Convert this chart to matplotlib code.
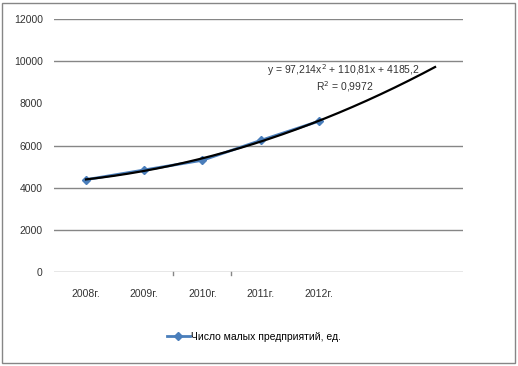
import numpy as np
import matplotlib.pyplot as plt
from matplotlib.patches import Rectangle

plt.rcParams['font.family'] = ['Liberation Sans Narrow', 'Liberation Sans', 'DejaVu Sans']

# data
years = ['2008г.', '2009г.', '2010г.', '2011г.', '2012г.']
firms = [4380, 4840, 5300, 6240, 7150]
# polynomial trend shown on chart (x = 1..7, forecast 2 periods forward)
coef = [97.214, 110.81, 4185.2]
eq_text = 'y = 97,214x$^2$ + 110,81x + 4185,2'
r2_text = 'R$^2$ = 0,9972'
legend_label = 'Число малых предприятий, ед.'

fig = plt.figure(figsize=(5.18, 3.66), dpi=100)
ax = fig.add_axes([0.1042, 0.2568, 0.7896, 0.6912])

x = np.arange(1, len(firms) + 1)
ax.plot(x, firms, color='#4a7ebb', lw=2, marker='D', ms=4.5,
        label=legend_label, zorder=3)

xt = np.linspace(1, 7, 200)
ax.plot(xt, np.polyval(coef, xt), color='black', lw=1.6, zorder=4)

ax.set_xlim(0.45, 7.48)
ax.set_ylim(0, 12000)
ax.set_yticks(range(0, 12001, 2000))
for v in [0, 2000, 4000, 6000, 10000, 12000]:
    ax.axhline(v, color='#868686', lw=1, zorder=1)
ax.tick_params(axis='y', length=0, labelsize=7.5, colors='#333333', pad=8)
ax.set_xticks(x)
ax.set_xticklabels(years)
ax.tick_params(axis='x', length=0, labelsize=7.5, colors='#333333', pad=12)
for xv in [2.49, 3.49]:
    ax.plot([xv, xv], [0, -120], color='#868686', lw=1, clip_on=False)
for s in ax.spines.values():
    s.set_visible(False)

ax.text(5.42, 9600, eq_text, ha='center', va='center', fontsize=7.5, color='#333333')
ax.text(5.45, 8800, r2_text, ha='center', va='center', fontsize=7.5, color='#333333')

fig.legend(loc='center', bbox_to_anchor=(0.49, 0.079), frameon=False,
           fontsize=7.5, handlelength=2.2, handletextpad=0.1)

fig.patches.append(Rectangle((0.003, 0.008), 0.991, 0.984, transform=fig.transFigure,
                             fill=False, edgecolor='#868686', lw=1))

fig.savefig('out.png', dpi=100)
